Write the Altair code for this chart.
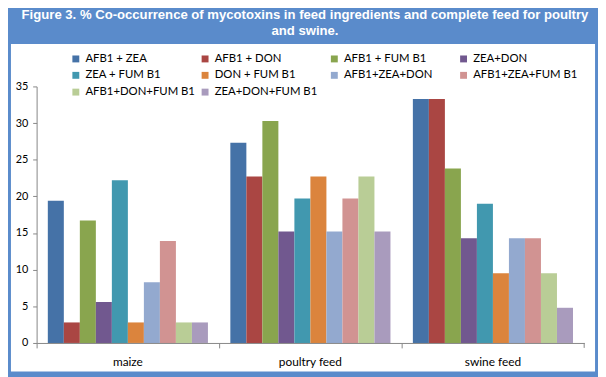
import altair as alt
import pandas as pd

categories = ["maize", "poultry feed", "swine feed"]
series = ["AFB1 + ZEA", "AFB1 + DON", "AFB1 + FUM B1", "ZEA+DON", "ZEA + FUM B1",
          "DON + FUM B1", "AFB1+ZEA+DON", "AFB1+ZEA+FUM B1", "AFB1+DON+FUM B1", "ZEA+DON+FUM B1"]
maize = [19.4, 2.8, 16.7, 5.6, 22.2, 2.8, 8.3, 13.9, 2.8, 2.8]
poultry = [27.3, 22.7, 30.3, 15.2, 19.7, 22.7, 15.2, 19.7, 22.7, 15.2]
swine = [33.3, 33.3, 23.8, 14.3, 19.0, 9.5, 14.3, 14.3, 9.5, 4.8]
colors = ["#4572A7", "#AA4643", "#89A54E", "#71588F", "#4198AF",
          "#DB843D", "#93A9CF", "#D19392", "#B9CD96", "#A99BBD"]
y_ticks = [0, 5, 10, 15, 20, 25, 30, 35]
title_line1 = "Figure 3. % Co-occurrence of mycotoxins in feed ingredients and complete feed for poultry"
title_line2 = "and swine."

rows = []
for cat, vals in zip(categories, [maize, poultry, swine]):
    for s, v in zip(series, vals):
        rows.append({"category": cat, "series": s, "value": v})
df = pd.DataFrame(rows)

W, H = 555, 260
PL, PT, PR, PB = 29, 77, 14, 32
BLUE = "#5A8BCB"

bg = alt.Chart(pd.DataFrame({"a": [0]})).mark_rect(color="white").encode(
    x=alt.value(-PL + 3), x2=alt.value(W + PR - 3),
    y=alt.value(34 - PT), y2=alt.value(H + PB - 3)
)

bars = alt.Chart(df).mark_bar().encode(
    x=alt.X("category:N", sort=categories, title=None,
            scale=alt.Scale(paddingInner=0, paddingOuter=0),
            axis=alt.Axis(bandPosition=0, labelAngle=0, zindex=1,
                          tickSize=5, labelPadding=9, domainColor="#868686",
                          tickColor="#868686", labelFontSize=12, labelFont="Lato",
                          labelColor="#000000")),
    xOffset=alt.XOffset("series:N", sort=series,
                        scale=alt.Scale(paddingInner=0, paddingOuter=0.7)),
    y=alt.Y("value:Q", title=None,
            scale=alt.Scale(domain=[0, 35], nice=False),
            axis=alt.Axis(values=y_ticks, grid=False, tickSize=4, labelPadding=5, zindex=1,
                          domainColor="#868686", tickColor="#868686",
                          labelFontSize=11, labelFont="Lato", labelColor="#000000")),
    color=alt.Color("series:N", sort=series,
                    scale=alt.Scale(domain=series, range=colors),
                    legend=alt.Legend(title=None, orient="none", legendX=34, legendY=-34,
                                      direction="horizontal",
                                      columns=4, gridAlign="all", columnPadding=4,
                                      rowPadding=4, symbolType="square", symbolSize=49,
                                      symbolStrokeWidth=0, labelFont="Lato",
                                      labelFontSize=11.5, labelOffset=4, padding=0,
                                      labelColor="#000000")),
)

endtick = alt.Chart(pd.DataFrame({"a": [0]})).mark_rule(color="#868686").encode(
    x=alt.value(W), y=alt.value(H), y2=alt.value(H + 5)
)

chart = alt.layer(bg, bars, endtick).properties(
    width=W, height=H,
    padding={"left": PL, "top": PT, "right": PR, "bottom": PB},
    autosize="none",
    background=BLUE,
    title=alt.Title(title_line1, subtitle=title_line2,
                    color="white", font="Liberation Sans", fontSize=13.3, fontWeight="bold",
                    subtitleColor="white", subtitleFont="Liberation Sans",
                    subtitleFontSize=13.3, subtitleFontWeight="bold", subtitlePadding=3,
                    anchor="middle", dx=-5.5, offset=7),
).configure_view(strokeWidth=0)

chart.save("out.html", embed_options={"renderer": "svg", "actions": False})
